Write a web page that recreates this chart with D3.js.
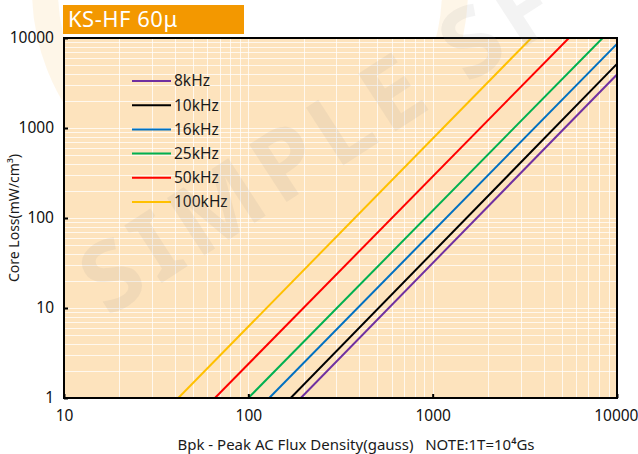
<!DOCTYPE html>
<html><head><meta charset="utf-8">
<script src="https://cdn.jsdelivr.net/npm/d3@7"></script>
<style>
body{margin:0;background:#fff}
svg{display:block}
text{font-family:"Noto Sans","Open Sans",sans-serif}
</style>
</head><body>
<svg id="c" width="638" height="454"></svg>
<script>
// ---- data ----
const seriesNames  = ["8kHz","10kHz","16kHz","25kHz","50kHz","100kHz"];
const seriesColors = ["#7030A0","#000000","#0070C0","#00B050","#FF0000","#FFC000"];
// endpoints [Bpk (gauss), core loss (mW/cm3)] (straight lines on log-log)
const loss8k   = [[192.6, 1], [10000, 3930]];
const loss10k  = [[169.7, 1], [10000, 5150]];
const loss16k  = [[129.8, 1], [10000, 8590]];
const loss25k  = [[100.0, 1], [8356, 10000]];
const loss50k  = [[65.9, 1],  [5484, 10000]];
const loss100k = [[41.7, 1],  [3428, 10000]];
const seriesValues = [loss8k, loss10k, loss16k, loss25k, loss50k, loss100k];
const xTicks = [10, 100, 1000, 10000];
const yTicks = [1, 10, 100, 1000, 10000];
const titleText = "KS-HF 60μ";
const yTitle = "Core Loss(mW/cm³)";
const xTitle = "Bpk - Peak AC Flux Density(gauss)   NOTE:1T=10⁴Gs";

// ---- layout ----
const svg = d3.select("#c");
const L = 64, R = 617, T = 38, B = 398;
const x = d3.scaleLog().domain([10, 10000]).range([L, R]);
const y = d3.scaleLog().domain([1, 10000]).range([B, T]);

// faint logo ring (background watermark)
svg.append("circle").attr("cx", 250).attr("cy", -10).attr("r", 205)
  .attr("fill", "none").attr("stroke", "rgba(243,152,0,0.09)").attr("stroke-width", 26);

// plot background
svg.append("rect").attr("x", L).attr("y", T).attr("width", R - L).attr("height", B - T)
  .attr("fill", "#FDE3BD");

// grid
const minor = (lo, hi) => { const a = []; for (let e = lo; e < hi; e++) for (let k = 1; k <= 9; k++) a.push(k * Math.pow(10, e)); return a; };
const gx = minor(1, 4).filter(v => v > 10);
const gy = minor(0, 4).filter(v => v > 1);
const grid = svg.append("g").attr("stroke", "#ffffff").attr("stroke-opacity", 0.75).attr("stroke-width", 1);
grid.selectAll(".gx").data(gx).join("line")
  .attr("x1", d => Math.round(x(d)) + 0.5).attr("x2", d => Math.round(x(d)) + 0.5).attr("y1", T).attr("y2", B);
grid.selectAll(".gy").data(gy).join("line")
  .attr("y1", d => Math.round(y(d)) + 0.5).attr("y2", d => Math.round(y(d)) + 0.5).attr("x1", L).attr("x2", R);

// series lines
svg.append("clipPath").attr("id", "pc").append("rect")
  .attr("x", L).attr("y", T).attr("width", R - L).attr("height", B - T);
const line = d3.line().x(d => x(d[0])).y(d => y(d[1]));
svg.append("g").attr("clip-path", "url(#pc)").selectAll("path").data(seriesValues).join("path")
  .attr("d", line).attr("fill", "none")
  .attr("stroke", (d, i) => seriesColors[i]).attr("stroke-width", 2);

// axes
const xa = svg.append("g").attr("transform", `translate(0,${B})`)
  .call(d3.axisBottom(x).tickValues(xTicks).tickFormat(d3.format("d")).tickSizeInner(-4).tickSizeOuter(0).tickPadding(12));
const ya = svg.append("g").attr("transform", `translate(${L},0)`)
  .call(d3.axisLeft(y).tickValues(yTicks).tickFormat(d3.format("d")).tickSizeInner(-4).tickSizeOuter(0).tickPadding(10));
[xa, ya].forEach(a => {
  a.select(".domain").remove();
  a.selectAll("line").attr("stroke", "#000").attr("stroke-width", 2);
  a.selectAll("text").attr("font-size", 15.5).attr("fill", "#111").attr("font-family", '"Noto Sans",sans-serif');
});
// keep the last x label inside the picture
xa.selectAll(".tick").filter(d => d === 10000).select("text").attr("text-anchor", "end").attr("dx", 21);

// frame
svg.append("rect").attr("x", L).attr("y", T).attr("width", R - L).attr("height", B - T)
  .attr("fill", "none").attr("stroke", "#000").attr("stroke-width", 2);

// legend
const lg = svg.append("g");
seriesNames.forEach((n, i) => {
  const yy = 81 + i * 24.2;
  lg.append("line").attr("x1", 132).attr("x2", 171).attr("y1", yy).attr("y2", yy)
    .attr("stroke", seriesColors[i]).attr("stroke-width", 2);
  lg.append("text").attr("x", 174).attr("y", yy).attr("dy", "0.35em")
    .attr("font-size", 15.5).attr("fill", "#1a1a1a").text(n);
});

// axis titles
svg.append("text").attr("transform", "translate(19,218) rotate(-90)")
  .attr("text-anchor", "middle").attr("font-size", 14).attr("fill", "#1a1a1a").text(yTitle);
svg.append("text").attr("x", 356).attr("y", 450).style("white-space", "pre")
  .attr("text-anchor", "middle").attr("font-size", 15).attr("fill", "#1a1a1a").text(xTitle);

// title box
svg.append("rect").attr("x", 63).attr("y", 5).attr("width", 181).attr("height", 29).attr("fill", "#F39800");
svg.append("text").attr("x", 68).attr("y", 27).attr("font-size", 22).attr("letter-spacing", 0.5)
  .attr("fill", "#fff").text(titleText);

// watermark text
svg.append("text").attr("transform", "translate(108,318) rotate(-33)")
  .attr("font-size", 96).attr("font-weight", "bold").attr("letter-spacing", 8)
  .attr("fill", "rgba(140,140,140,0.10)").text("SIMPLE SF");
</script>
</body></html>
